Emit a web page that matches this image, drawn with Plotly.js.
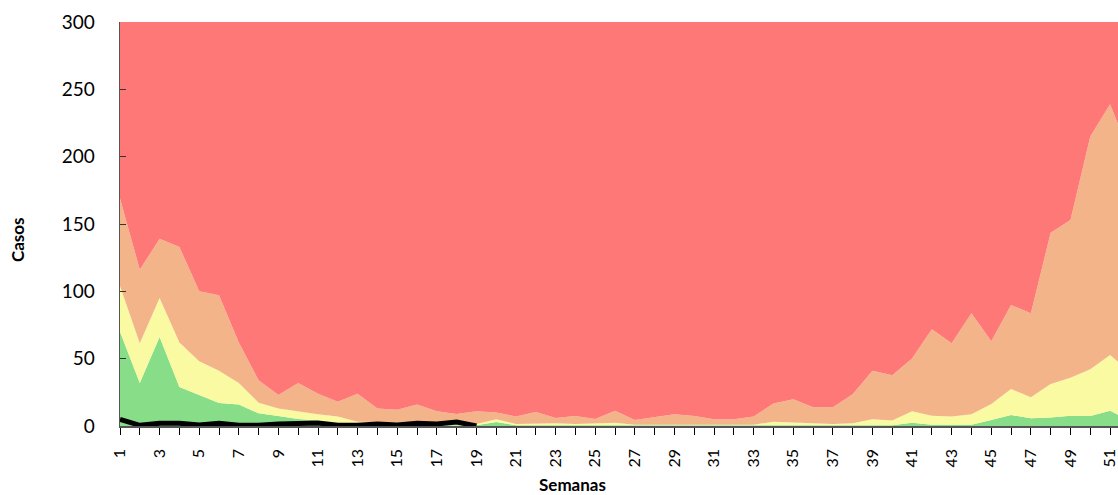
<!DOCTYPE html>
<html>
<head>
<meta charset="utf-8">
<script src="https://cdn.plot.ly/plotly-3.0.1.min.js"></script>
<style>html,body{margin:0;padding:0;background:#fff;}#chart{width:1118px;height:495px;}</style>
</head>
<body>
<div id="chart"></div>
<script>
// Semanas epidemiológicas
const semanas = Array.from({length: 52}, (_, i) => i + 1);

// Límite zona de éxito (verde)
const exito = [70, 32, 66, 29, 23, 17, 16, 9.4, 7.4, 5.2, 4, 2, 1, 0.5, 0.5, 0.5, 0.5, 0.5, 0.5, 3,
  0.5, 0.5, 0.5, 0.5, 0.5, 0.5, 0.5, 0.5, 0.5, 0.5, 0.5, 0.5, 0.5, 0.5, 0.5, 0.5, 0.5, 0.5, 0.5, 0.5,
  2.5, 1, 1, 1, 4.5, 8.2, 5.7, 6.4, 7.7, 7.4, 11.4, 4];

// Límite zona de seguridad (amarillo)
const seguridad = [104, 61.5, 95, 62, 48, 41, 32, 17.3, 13, 10.6, 8.7, 7, 3.2, 3, 2.5, 3.3, 3, 2.5, 1.5, 5,
  1.5, 2, 2, 1.5, 2, 2.5, 1, 1, 1, 1, 1, 1, 1, 3.2, 2.5, 2, 1.5, 2, 5, 4,
  11, 7.7, 7, 8.7, 16.3, 27.5, 21.3, 31.2, 35.9, 42.1, 52.7, 40];

// Límite zona de alerta (naranja)
const alerta = [169, 116, 139, 133, 100, 97, 62, 34, 23, 32, 24, 18, 24, 13, 12, 16, 11, 9, 11, 10,
  7, 10.4, 6, 7.4, 5.2, 11.4, 4.5, 6.4, 8.7, 7.4, 5, 5, 7, 16.8, 19.8, 13.9, 13.9, 23.5, 41, 37.6,
  50.2, 71.8, 61.4, 83.7, 62.9, 89.8, 83.7, 143.5, 153, 215, 239, 202];

// Límite zona de epidemia (rojo)
const epidemia = semanas.map(() => 300);

// Casos del año actual (semanas 1-19)
const semanasActual = semanas.slice(0, 19);
const casos = [5, 0.5, 2, 2, 0.7, 2, 0.5, 0.5, 1.5, 2.2, 2.2, 0.5, 0.5, 1.5, 0.7, 2, 1.5, 3, 0];

const area = (y, color, fill) => ({
  x: semanas, y: y, type: 'scatter', mode: 'lines',
  line: {width: 0, color: color}, fill: fill, fillcolor: color,
  hoverinfo: 'skip', showlegend: false
});

const traces = [
  area(exito, '#88DE88', 'tozeroy'),
  area(seguridad, '#FAFAA2', 'tonexty'),
  area(alerta, '#F4B48A', 'tonexty'),
  area(epidemia, '#FF7878', 'tonexty'),
  {
    x: semanasActual, y: casos, type: 'scatter', mode: 'lines',
    line: {color: '#000000', width: 5}, showlegend: false, cliponaxis: false
  }
];

const layout = {
  width: 1118, height: 495,
  margin: {l: 120, r: 0, t: 22, b: 69},
  paper_bgcolor: '#ffffff', plot_bgcolor: '#ffffff',
  font: {family: 'Lato, "Open Sans", sans-serif', color: '#000'},
  showlegend: false,
  xaxis: {
    range: [1, 51.4], tick0: 1, dtick: 2, tickmode: 'linear',
    ticks: 'outside', ticklen: 7, tickcolor: '#000', tickwidth: 1,
    minor: {dtick: 1, tick0: 1, ticks: 'outside', ticklen: 7, tickcolor: '#000', tickwidth: 1},
    tickangle: -90, tickfont: {size: 16, color: '#000'},
    ticklabelstandoff: 8, ticklabeloverflow: 'allow',
    showline: true, linecolor: '#555', linewidth: 1.5,
    showgrid: false, zeroline: false
  },
  yaxis: {
    range: [0, 300], dtick: 50, tick0: 0,
    ticks: 'inside', ticklen: 6, tickcolor: '#333', tickwidth: 1,
    tickfont: {size: 19, color: '#000'},
    ticklabelstandoff: 20,
    showline: true, linecolor: '#555', linewidth: 1.5,
    showgrid: false, zeroline: false
  },
  annotations: [
    {text: '<b>Semanas</b>', xref: 'paper', yref: 'paper', x: (572 - 120) / 998, y: -(485 - 426) / 404,
     xanchor: 'center', yanchor: 'middle', showarrow: false, font: {size: 17, color: '#000'}},
    {text: '<b>Casos</b>', xref: 'paper', yref: 'paper', x: (17 - 120) / 998, y: (426 - 240) / 404,
     xanchor: 'center', yanchor: 'middle', textangle: -90, showarrow: false, font: {size: 17, color: '#000'}}
  ]
};

Plotly.newPlot('chart', traces, layout, {displayModeBar: false, staticPlot: true});
</script>
</body>
</html>
